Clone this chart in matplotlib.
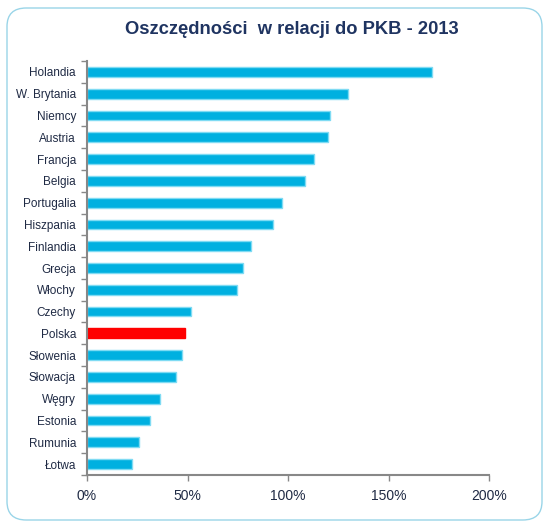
import matplotlib
matplotlib.use("Agg")
import matplotlib.pyplot as plt
from matplotlib.patches import FancyBboxPatch
from matplotlib.ticker import FuncFormatter, FixedLocator

countries = ["Holandia", "W. Brytania", "Niemcy", "Austria", "Francja", "Belgia",
             "Portugalia", "Hiszpania", "Finlandia", "Grecja", "Włochy", "Czechy",
             "Polska", "Słowenia", "Słowacja", "Węgry", "Estonia", "Rumunia", "Łotwa"]
values = [171.5, 130, 121, 120, 113, 108.5, 97, 92.7, 81.4, 77.6, 74.8, 51.9,
          48.6, 47.1, 44.3, 36.3, 31.5, 25.9, 22.4]
highlight = "Polska"
xticks = [0, 50, 100, 150, 200]
title = "Oszczędności  w relacji do PKB - 2013"

fig = plt.figure(figsize=(5.49, 5.27), dpi=100)
fig.patches.append(FancyBboxPatch((7/549, 7/527), 535/549, 512/527,
                                  boxstyle="round,pad=0,rounding_size=0.035",
                                  transform=fig.transFigure, fill=False,
                                  edgecolor="#9AD5E8", linewidth=1.0))
ax = fig.add_axes([87/549, 1 - 475/527, 402/549, 414/527])
ypos = list(range(len(countries)))
cols = ["#FF0000" if c == highlight else "#00B0E0" for c in countries]
edges = ["#FF0000" if c == highlight else "#7FDBF3" for c in countries]
ax.barh(ypos, values, height=0.45, color=cols, edgecolor=edges, linewidth=1.0)
ax.set_ylim(len(countries) - 0.5, -0.5)
ax.set_xlim(0, 200)
ax.set_yticks(ypos)
ax.set_yticklabels(countries, fontsize=8.5, color="#1F2A44")
ax.yaxis.set_minor_locator(FixedLocator([i - 0.5 for i in range(len(countries) + 1)]))
ax.tick_params(axis="y", which="major", length=0, pad=8)
ax.tick_params(axis="y", which="minor", length=4, color="#888888", width=1)
ax.set_xticks(xticks)
ax.xaxis.set_major_formatter(FuncFormatter(lambda v, p: f"{int(v)}%"))
ax.tick_params(axis="x", length=4, color="#888888", width=1, labelsize=10,
               labelcolor="#1F2A44", pad=6)
for s in ["top", "right"]:
    ax.spines[s].set_visible(False)
for s in ["left", "bottom"]:
    ax.spines[s].set_color("#888888")
    ax.spines[s].set_linewidth(1.5)
fig.text(292/549, 1 - 29/527, title, ha="center", va="center", fontsize=13.2,
         fontweight="bold", color="#1F3461", family="Liberation Sans")
for lbl in ax.get_yticklabels() + ax.get_xticklabels():
    lbl.set_family("Liberation Sans")
fig.savefig("out.png", dpi=100)
